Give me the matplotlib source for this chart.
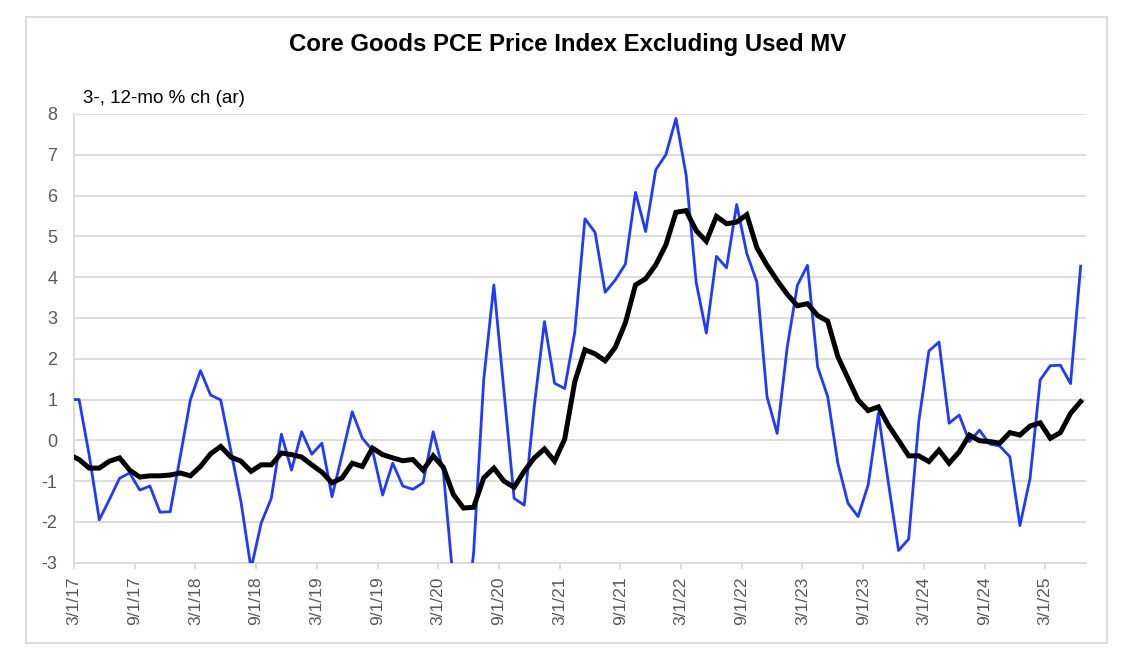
import matplotlib.pyplot as plt
import numpy as np
import pandas as pd
from matplotlib.patches import Rectangle

plt.rcParams["font.family"] = ["Liberation Sans", "DejaVu Sans"]
plt.rcParams["axes.unicode_minus"] = False

# monthly, Feb 2017 (just left of the axis) through Jun 2025
start = "2017-02-01"

three_mo = [
    1.0,
    1.0, -0.36, -1.95, -1.45, -0.93, -0.8, -1.22, -1.12, -1.76, -1.75,
    -0.4, 0.99, 1.71, 1.11, 0.99, -0.25, -1.5, -3.15, -2.03, -1.42,
    0.15, -0.73, 0.21, -0.34, -0.07, -1.38, -0.35, 0.70, 0.05, -0.24,
    -1.34, -0.56, -1.12, -1.2, -1.04, 0.21, -0.75, -3.5, -5.0, -2.75,
    1.5, 3.81, 1.2, -1.42, -1.59, 0.85, 2.91, 1.40, 1.27, 2.66,
    5.43, 5.10, 3.63, 3.93, 4.32, 6.08, 5.12, 6.63, 7.0, 7.89,
    6.51, 3.87, 2.63, 4.51, 4.23, 5.78, 4.58, 3.88, 1.07, 0.17,
    2.29, 3.80, 4.29, 1.80, 1.07, -0.56, -1.54, -1.87, -1.09, 0.66,
    -1.05, -2.70, -2.42, 0.46, 2.19, 2.41, 0.42, 0.62, -0.03, 0.25,
    -0.09, -0.14, -0.40, -2.09, -0.93, 1.48, 1.83, 1.84, 1.39, 4.27,
]

twelve_mo = [
    -0.35,
    -0.47, -0.68, -0.68, -0.51, -0.43, -0.73, -0.90, -0.87, -0.87, -0.85,
    -0.80, -0.87, -0.64, -0.33, -0.15, -0.41, -0.51, -0.76, -0.60, -0.60,
    -0.31, -0.35, -0.41, -0.60, -0.78, -1.04, -0.92, -0.56, -0.64, -0.19,
    -0.35, -0.43, -0.50, -0.47, -0.73, -0.38, -0.66, -1.33, -1.66, -1.64,
    -0.92, -0.68, -1.00, -1.15, -0.76, -0.43, -0.21, -0.51, 0.03, 1.44,
    2.22, 2.12, 1.95, 2.28, 2.88, 3.81, 3.96, 4.30, 4.79, 5.59,
    5.63, 5.14, 4.88, 5.49, 5.31, 5.35, 5.53, 4.72, 4.29, 3.92,
    3.58, 3.30, 3.35, 3.06, 2.92, 2.05, 1.52, 0.99, 0.73, 0.82,
    0.37, 0.0, -0.38, -0.38, -0.52, -0.24, -0.56, -0.28, 0.13, -0.01,
    -0.03, -0.07, 0.19, 0.13, 0.35, 0.43, 0.05, 0.19, 0.66, 0.95,
]

dates = pd.date_range(start, periods=len(three_mo), freq="MS")
y_ticks = list(range(-3, 9))


def plot():
    fig = plt.figure(figsize=(11.3, 6.7), dpi=100)
    ax = fig.add_axes([0.0655, 0.1601, 0.8953, 0.6698])

    # points sit in the middle of each month slot
    x = np.arange(len(dates)) - 0.5
    ax.plot(x, three_mo, color="#1F3BFF", lw=2.0, zorder=3)
    ax.plot(x, twelve_mo, color="black", lw=3.6, solid_joinstyle="miter", zorder=4)

    ax.set_xlim(0, len(dates) - 1)
    ax.set_ylim(-3, 8)
    ax.set_yticks(y_ticks)
    ax.grid(axis="y", color="#D9D9D9", lw=1.3)
    ax.set_axisbelow(True)

    tick_pos = [i - 1 for i, d in enumerate(dates) if d.month in (3, 9) and i > 0]
    ax.set_xticks(tick_pos)
    ax.set_xticklabels(
        [f"{dates[p + 1].month}/{dates[p + 1].day}/{dates[p + 1].year % 100}" for p in tick_pos],
        rotation=90,
    )

    for s in ["top", "right"]:
        ax.spines[s].set_visible(False)
    ax.spines["left"].set_color("#D9D9D9")
    ax.spines["bottom"].set_color("#D9D9D9")
    ax.spines["left"].set_linewidth(1.3)
    ax.spines["bottom"].set_linewidth(1.3)

    ax.tick_params(axis="y", length=0, pad=12, labelsize=13, labelcolor="#595959")
    ax.tick_params(axis="x", length=4, width=1.3, color="#D9D9D9", pad=6,
                   labelsize=12.5, labelcolor="#595959")

    fig.text(0.502, 0.933, "Core Goods PCE Price Index Excluding Used MV",
             ha="center", va="center", fontsize=17.3, fontweight="bold")
    fig.text(0.0735, 0.853, "3-, 12-mo % ch (ar)", ha="left", va="center", fontsize=13.5)

    fig.patches.append(Rectangle((0.023, 0.0403), 0.9566, 0.9343, transform=fig.transFigure,
                                 fill=False, edgecolor="#D9D9D9", lw=1.3))

    fig.savefig("out.png", dpi=100, facecolor="white")


if __name__ == "__main__":
    plot()
